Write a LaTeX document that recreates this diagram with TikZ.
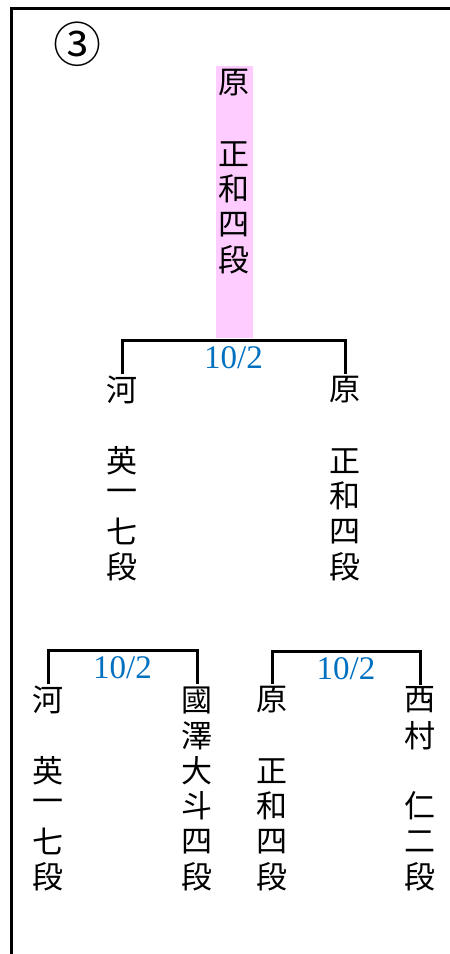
\documentclass[tikz,border=0pt]{standalone}
\usepackage{fontspec}
\newfontfamily\cjk{Noto Sans CJK JP}
\newfontfamily\numfont{Liberation Serif}
\definecolor{lblblue}{RGB}{0,112,192}
\definecolor{hlpink}{RGB}{255,204,255}
\newcommand\kcol[4]{%
  \foreach \c [count=\i] in {#4} {%
    \node[ch] (#1-\i) at (#2,{-(#3+(\i-1)*35.4)}) {\c};}}
\begin{document}
\begin{tikzpicture}[x=1pt,y=1pt,
  ch/.style={font=\cjk\fontsize{31}{31}\selectfont, inner sep=0pt},
  br/.style={line width=3pt, line join=miter},
  lbl/.style={font=\numfont\fontsize{33}{33}\selectfont, text=lblblue, inner sep=0pt},
  frame/.style={line width=3pt}]
\useasboundingbox (0,0) rectangle (450,-954);
% frame
\draw[frame] (11.5,-954) -- (11.5,-8.5) -- (450,-8.5);
% circled number
\node[font=\cjk\fontsize{48}{48}\selectfont, inner sep=0pt] (num) at (77,-44) {③};
% highlight
\fill[hlpink] (216,-66) rectangle (253,-338);
% columns
\kcol{A}{234}{83}{原,{},正,和,四,段}
\kcol{B}{122}{390}{河,{},英,一,七,段}
\kcol{C}{345}{390}{原,{},正,和,四,段}
\kcol{D}{48}{700}{河,{},英,一,七,段}
\kcol{E}{197}{700}{國,澤,大,斗,四,段}
\kcol{F}{272}{700}{原,{},正,和,四,段}
\kcol{G}{420}{700}{西,村,{},仁,二,段}
% brackets
\draw[br] ([yshift=2pt]B-1.north) -- ++(0,33) -| ([yshift=2pt]C-1.north)
  node[lbl, pos=0.25, yshift=-17pt] (l1) {10/2};
\draw[br] ([yshift=2pt]D-1.north) -- ++(0,33) -| ([yshift=2pt]E-1.north)
  node[lbl, pos=0.25, yshift=-17pt] (l2) {10/2};
\draw[br] ([yshift=2pt]F-1.north) -- ++(0,33) -| ([yshift=2pt]G-1.north)
  node[lbl, pos=0.25, yshift=-17pt] (l3) {10/2};
\end{tikzpicture}
\end{document}
